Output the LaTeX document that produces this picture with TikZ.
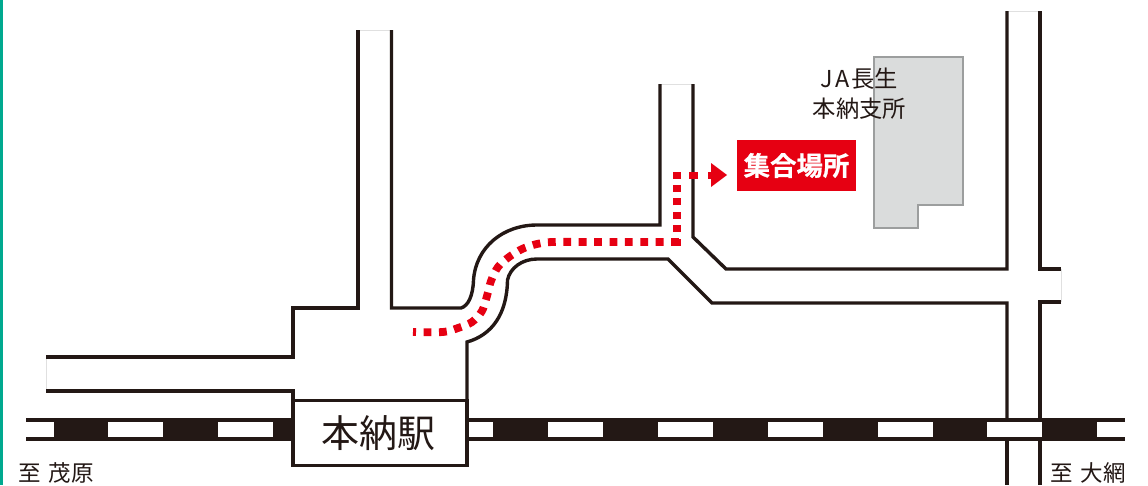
\documentclass[tikz,border=0pt]{standalone}
\usepackage{fontspec}
\newfontfamily\cjk{Noto Sans CJK JP}
\newfontfamily\cjkb[FakeBold=0.8]{Noto Sans CJK JP Bold}
\definecolor{ink}{HTML}{231815}
\definecolor{jared}{HTML}{E60012}
\definecolor{bldg}{HTML}{DADCDC}
\definecolor{bldgline}{HTML}{9C9E9E}
\definecolor{stripe}{HTML}{00A98F}
\tikzset{
  road/.style={draw=ink,line width=3.4pt,line join=miter},
  roadend/.style={draw=black!12,line width=0.6pt},
  railwin/.style={fill=white,draw=none},
  routeline/.style={draw=jared,line width=7.8pt,dash pattern=on 7.8pt off 7.6pt},
  lab/.style={text=ink,inner sep=0pt,align=center,font=\cjk}
}
\begin{document}
\begin{tikzpicture}[x=1pt,y=-1pt]
\useasboundingbox (0,0) rectangle (1148,485);
\fill[white] (0,0) rectangle (1148,485);
\fill[stripe] (0,0) rectangle (3,485);
% building
\draw[fill=bldg,draw=bldgline,line width=1.4pt] (874,57) -- (963,57) -- (963,205) -- (918,205) -- (918,228) -- (874,228) -- cycle;
% road ends
\draw[roadend] (46,357) -- (46,391);
\draw[roadend] (1061,269) -- (1061,302);
\draw[roadend] (358,30) -- (391,30);
\draw[roadend] (659,84) -- (693,84);
\draw[roadend] (1007,11) -- (1040,11);
% roads
\draw[road] (46,357) -- (293,357) -- (293,308) -- (358,308) -- (358,30);
\draw[road] (46,391) -- (293,391) -- (293,402);
\draw[road] (391.5,30) -- (391.5,308) -- (461,308)
  .. controls (468,306) and (473,296) .. (473.5,280)
  .. controls (476,247) and (503,225) .. (537,225) -- (660,225) -- (660,84);
\draw[road] (467,402) -- (467,342)
  .. controls (492,335) and (507,314) .. (507.5,280)
  .. controls (510,268) and (522,259) .. (537,259) -- (668,259) -- (712,303) -- (1007,303) -- (1007,420);
\draw[road] (693,84) -- (693,237) -- (726,269) -- (1007,269) -- (1007,11);
\draw[road] (1040,11) -- (1040,269) -- (1061,269);
\draw[road] (1061,302) -- (1040,302) -- (1040,420);
\draw[road] (1007,439) -- (1007,485);
\draw[road] (1040,439) -- (1040,485);
% railway
\fill[ink] (26,418) rectangle (1125,441);
\foreach \a/\b in {26/54,108/163,218/273,467/493,548/603,658/713,768/823,878/933,987/1042,1097/1125}
  \fill[railwin] (\a,422) rectangle (\b,437);
% station
\node[draw=ink,fill=white,line width=3.4pt,minimum width=174pt,minimum height=65pt,inner sep=0pt] (station) at (380,433) {};
\node[inner sep=0pt,font=\cjk\fontsize{38}{40}\selectfont,text=ink] (stationname) at (378,433) {本納駅};
% red route
\draw[routeline,dash phase=4.8pt] plot[smooth,tension=0.55] coordinates {(413,332) (443,332) (458,328) (472,322) (482,311) (487,296) (491,281) (498,267) (509,257) (522,249) (537,244) (553,242) (600,242) (681,242)};
\draw[routeline,line width=7.4pt,dash pattern=on 7pt off 6.4pt] (677,245.5) -- (677,171.5);
\draw[routeline,line width=7pt,dash pattern=on 9pt off 10pt] (689,175) -- (711,175);
\fill[jared] (711,163) -- (727,175) -- (711,187) -- cycle;
% meeting place
\node[fill=jared,text=white,minimum width=119pt,minimum height=51pt,inner sep=0pt,font=\cjkb\fontsize{26.4}{28}\selectfont] (meet) at (796.5,165.5) {集合場所};
% labels
\node[lab,font=\cjk\fontsize{23.3}{30}\selectfont] (ja) at (859.5,94) {J\kern2pt A\kern2pt 長生\\本納支所};
\node[lab,font=\cjk\fontsize{22.5}{24}\selectfont] (west) at (56,473) {至\hspace{8pt}茂原};
\node[lab,font=\cjk\fontsize{22.5}{24}\selectfont] (east) at (1088,473) {至\hspace{8pt}大網};
\end{tikzpicture}
\end{document}
